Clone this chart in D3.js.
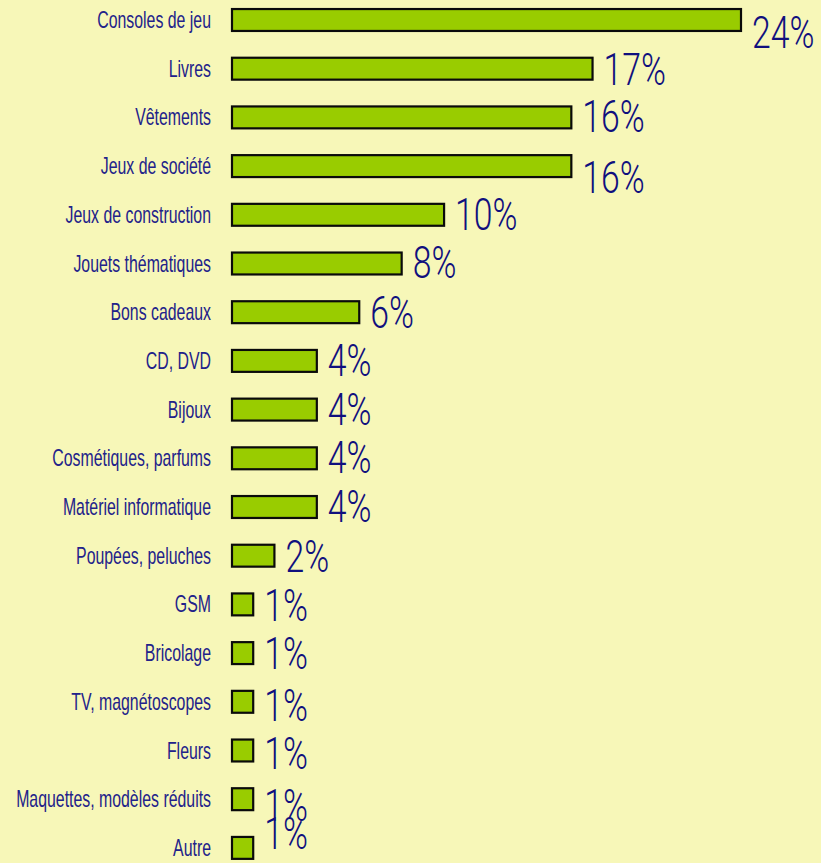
<!DOCTYPE html>
<html>
<head>
<meta charset="utf-8">
<script src="https://cdn.jsdelivr.net/npm/d3@7"></script>
<style>
  html, body { margin: 0; padding: 0; background: #f7f7b8; }
  svg { display: block; }
</style>
</head>
<body>
<div id="chart"></div>
<script>
var categories = [
  'Consoles de jeu', 'Livres', 'Vêtements', 'Jeux de société',
  'Jeux de construction', 'Jouets thématiques', 'Bons cadeaux', 'CD, DVD',
  'Bijoux', 'Cosmétiques, parfums', 'Matériel informatique', 'Poupées, peluches',
  'GSM', 'Bricolage', 'TV, magnétoscopes', 'Fleurs',
  'Maquettes, modèles réduits', 'Autre'
];
var values = [24, 17, 16, 16, 10, 8, 6, 4, 4, 4, 4, 2, 1, 1, 1, 1, 1, 1];
var valueLabels = values.map(function(v) { return v + '%'; });

// the value labels in the original are not all on their bar, nudge them
var labelNudge = [13, 1, 0, 12, 0, -1, 1, 0, 0, 0, 0, 1, 2, 1, 4, 3, 7, -14];

var width = 821;
var height = 863;
var squeeze = 0.69; // fake a condensed face

var svg = d3.select('#chart').append('svg')
  .attr('width', width)
  .attr('height', height);

svg.append('rect')
  .attr('width', width).attr('height', height)
  .attr('fill', '#f7f7b8');

var x = d3.scaleLinear()
  .domain([0, 24])
  .range([232, 741]);

var y = d3.scaleBand()
  .domain(categories)
  .range([-4.35, -4.35 + 18 * 48.7])
  .paddingInner(0.55)
  .paddingOuter(0.275);

var rows = categories.map(function(c, i) {
  return { cat: c, value: values[i], label: valueLabels[i], nudge: labelNudge[i] };
});

svg.append('g').classed('bars', true)
  .selectAll('rect')
  .data(rows)
  .enter().append('rect')
  .attr('x', x(0))
  .attr('y', function(d) { return y(d.cat); })
  .attr('width', function(d) { return x(d.value) - x(0); })
  .attr('height', y.bandwidth())
  .attr('fill', '#99cc00')
  .attr('stroke', '#0a0a0a')
  .attr('stroke-width', 2.2);

// category names, right aligned
svg.append('g').classed('cats', true)
  .selectAll('text')
  .data(rows)
  .enter().append('text')
  .attr('transform', function(d) {
    var cy = y(d.cat) + y.bandwidth() / 2;
    return 'translate(211,' + (cy + 8) + ') scale(' + squeeze + ',1)';
  })
  .attr('text-anchor', 'end')
  .attr('font-family', 'Liberation Sans, Arial, sans-serif')
  .attr('font-size', 23)
  .attr('fill', '#22228a')
  .text(function(d) { return d.cat; });

// percentages
svg.append('g').classed('vals', true)
  .selectAll('text')
  .data(rows)
  .enter().append('text')
  .attr('transform', function(d) {
    var cy = y(d.cat) + y.bandwidth() / 2;
    return 'translate(' + (x(d.value) + 11) + ',' + (cy + 15 + d.nudge) + ') scale(0.75,1)';
  })
  .attr('font-family', 'Roboto, Liberation Sans, sans-serif')
  .attr('font-weight', 300)
  .attr('font-size', 45)
  .attr('fill', '#10107e')
  .text(function(d) { return d.label; });
</script>
</body>
</html>
